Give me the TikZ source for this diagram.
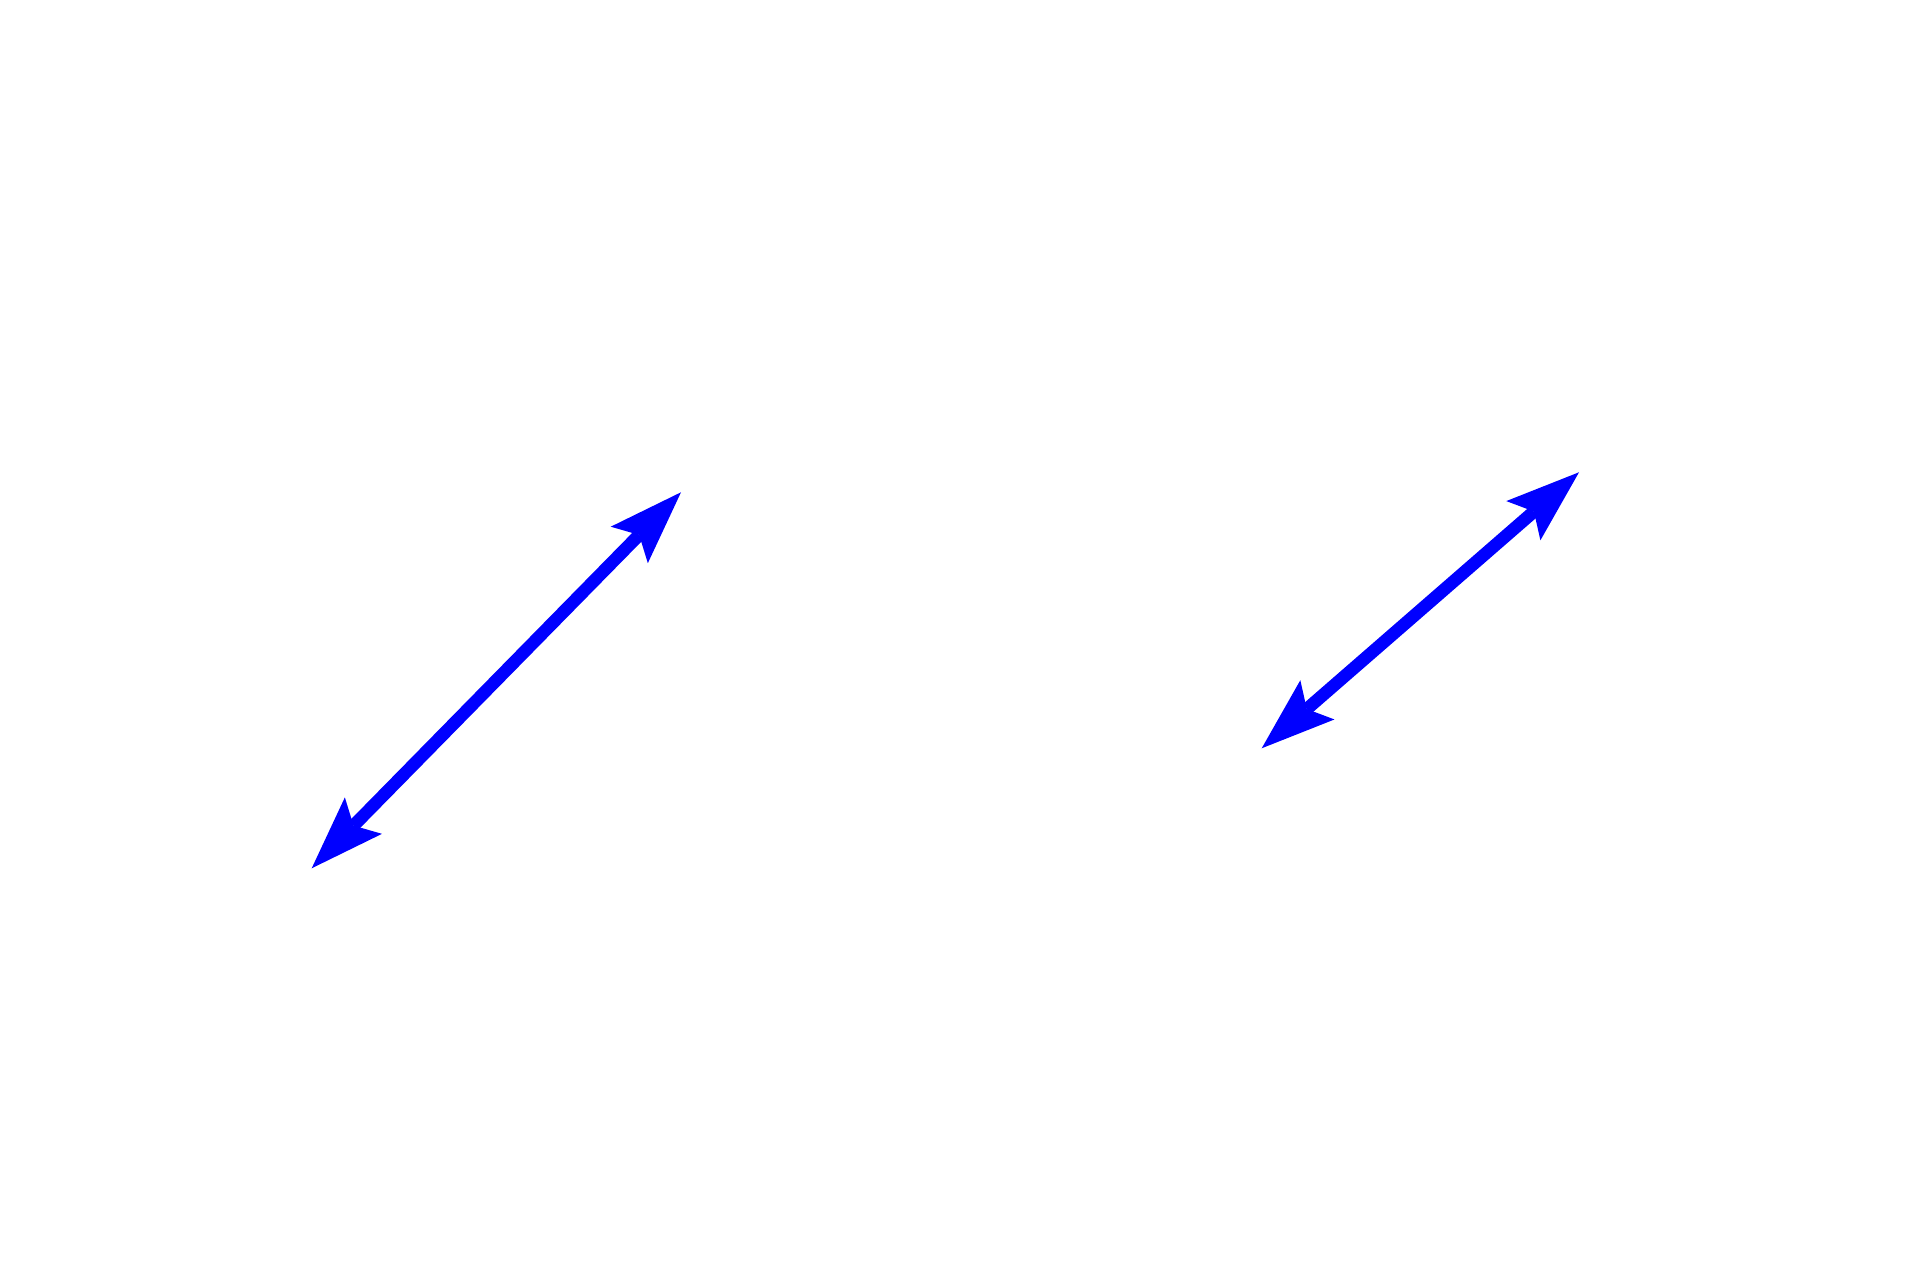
\documentclass[tikz,border=0pt]{standalone}
\usepackage{tikz}
\usetikzlibrary{arrows.meta}
\usepackage{xcolor}
\usetikzlibrary{positioning}
\begin{document}
\begin{tikzpicture}
  \tikzset{edge/.style = {color=blue, line width=3.6pt, tipA-tipA}}
  \tikzset{%
  tipA/.tip={Stealth[length=21pt, width=14.8pt, inset=4pt, line width=0pt]},
}
    \fill[white] (0,0) rectangle (19.2,12.8);
    \useasboundingbox (0,0) rectangle (19.2,12.8);

	\coordinate (L1) at (3.117,4.117);
	\coordinate (U1) at (6.81,7.877);

	\coordinate (L2) at (12.617,5.317);
	\coordinate (U2) at (15.79,8.077);

    \foreach \from/\to in {L1/U1,L2/U2}
    \draw[edge](\from) -- (\to);

\end{tikzpicture}
\end{document}
